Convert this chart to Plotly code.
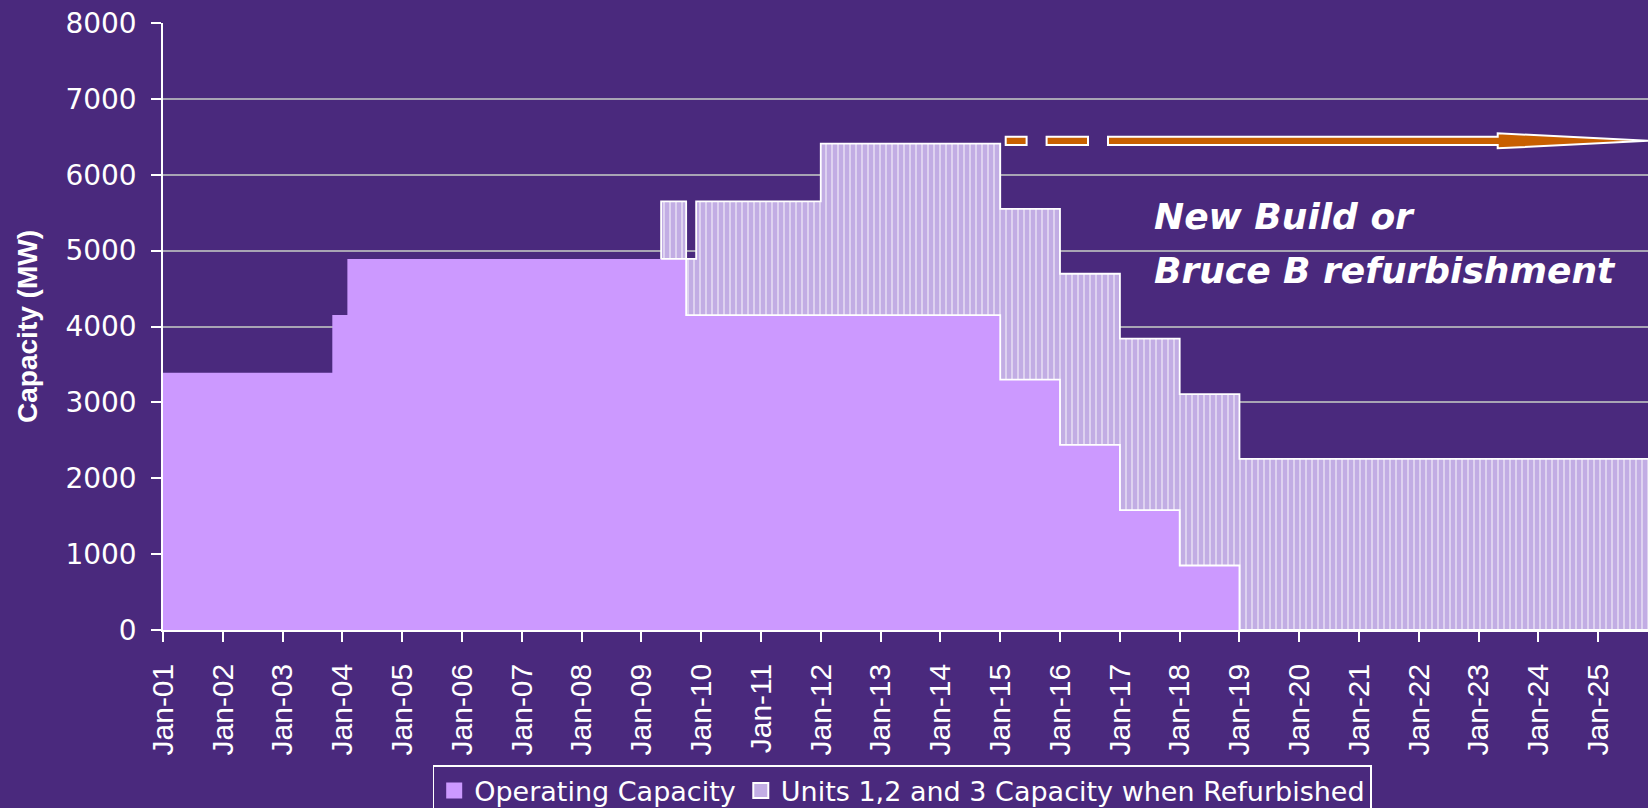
import plotly.graph_objects as go

# ---- data (step change dates and capacities, MW) ----
dates = ["2001-01-01", "2003-11-01", "2004-02-01", "2009-05-01", "2009-10-01",
         "2009-12-01", "2012-01-01", "2015-01-01", "2016-01-01", "2017-01-01",
         "2018-01-01", "2019-01-01", "2025-12-31"]
operating = [3390, 4150, 4890, 4890, 4150, 4150, 4150, 3300, 2440, 1580, 850, 0, 0]
refurbished = [0, 0, 0, 760, 740, 1500, 2260, 2250, 2255, 2260, 2260, 2255, 2255]

series_names = ["Operating Capacity", "Units 1,2 and 3 Capacity when Refurbished"]
annotation_lines = ["New Build or", "Bruce B refurbishment"]

total = [o + r for o, r in zip(operating, refurbished)]

BG = "#4a297d"
OP_COLOR = "#cc99ff"
REF_BG = "#c2ade4"
ORANGE = "#c85f00"

fig = go.Figure()

fig.add_trace(go.Scatter(
    x=dates, y=operating, mode="lines", line=dict(shape="hv", width=0),
    fill="tozeroy", fillcolor=OP_COLOR, showlegend=False, hoverinfo="skip"))

fig.add_trace(go.Scatter(
    x=dates, y=total, mode="lines", line=dict(shape="hv", width=0),
    fill="tonexty", fillcolor=REF_BG,
    fillpattern=dict(shape="|", bgcolor=REF_BG, fgcolor="white", size=6, solidity=0.3),
    showlegend=False, hoverinfo="skip"))

# outline of the refurbished block
k = next(i for i, r in enumerate(refurbished) if r > 0)
fig.add_trace(go.Scatter(
    x=[dates[k]] + dates[k:], y=[operating[k]] + total[k:], mode="lines",
    line=dict(shape="hv", width=1.8, color="white"), showlegend=False, hoverinfo="skip"))
fig.add_trace(go.Scatter(
    x=dates[k:], y=operating[k:], mode="lines",
    line=dict(shape="hv", width=1.8, color="white"), showlegend=False, hoverinfo="skip"))

# legend entries
fig.add_trace(go.Scatter(x=[None], y=[None], mode="markers", name=series_names[0],
                         marker=dict(symbol="square", size=16, color=OP_COLOR, line=dict(width=0))))
fig.add_trace(go.Scatter(x=[None], y=[None], mode="markers", name=series_names[1],
                         marker=dict(symbol="square", size=15, color=REF_BG,
                                     line=dict(width=2, color="white"))))

W, H = 1648, 808
L, R, T, B = 163, 0, 23, 178
pw, ph = W - L - R, H - T - B


def px(xp):
    return (xp - L) / pw


def py(yp):
    return (H - B - yp) / ph


# dashed arrow
shapes = []
for x0, x1 in [(1005.7, 1026.6), (1046.6, 1088.0)]:
    shapes.append(dict(type="rect", xref="paper", yref="paper",
                       x0=px(x0), x1=px(x1), y0=py(145), y1=py(136.7),
                       fillcolor=ORANGE, line=dict(color="white", width=2)))
pts = [(1108, 136.7), (1497.7, 136.7), (1497.7, 133.3), (1648, 140.8),
       (1497.7, 148.3), (1497.7, 145), (1108, 145)]
path = "M" + " L".join(f"{px(a):.5f},{py(b):.5f}" for a, b in pts) + " Z"
shapes.append(dict(type="path", xref="paper", yref="paper", path=path,
                   fillcolor=ORANGE, line=dict(color="white", width=2)))

annotations = [
    dict(text=annotation_lines[0], xref="paper", yref="paper", x=px(1152), y=py(216),
         xanchor="left", yanchor="middle", showarrow=False,
         font=dict(family="DejaVu Sans", size=36, color="white", weight="bold", style="italic")),
    dict(text=annotation_lines[1], xref="paper", yref="paper", x=px(1152), y=py(270),
         xanchor="left", yanchor="middle", showarrow=False,
         font=dict(family="DejaVu Sans", size=36, color="white", weight="bold", style="italic")),
]

fig.update_layout(
    width=W, height=H,
    margin=dict(l=L, r=R, t=T, b=B, pad=0, autoexpand=False),
    paper_bgcolor=BG, plot_bgcolor=BG,
    shapes=shapes, annotations=annotations,
    showlegend=True,
    legend=dict(orientation="h", x=px(432.7), y=py(765), xanchor="left", yanchor="top",
                traceorder="normal",
                bgcolor="rgba(0,0,0,0)", bordercolor="white", borderwidth=1.5,
                font=dict(family="DejaVu Sans", size=27, color="white"),
                itemclick=False, itemdoubleclick=False),
    xaxis=dict(type="date", range=["2001-01-01", "2025-10-31"],
               tick0="2001-01-01", dtick="M12", tickformat="%b-%y", tickangle=-90,
               showgrid=False, showline=True, linecolor="white", linewidth=1.5,
               ticks="outside", ticklen=10, tickwidth=1.5, tickcolor="white",
               ticklabelstandoff=10,
               tickfont=dict(family="Liberation Sans", size=30, color="white"),
               zeroline=False),
    yaxis=dict(range=[0, 8000], dtick=1000, showgrid=True, gridcolor="#a8a4b4", gridwidth=1.5,
               showline=True, linecolor="white", linewidth=1.5,
               ticks="outside", ticklen=10, tickwidth=1.5, tickcolor="white",
               ticklabelstandoff=9,
               tickfont=dict(family="DejaVu Sans", size=28, color="white"),
               zeroline=False,
               title=dict(text="<b>Capacity (MW)</b>", standoff=20,
                          font=dict(family="Liberation Sans", size=28, color="white"))),
)

fig.write_html("out.html", config={"displayModeBar": False},
               post_script="document.body.style.margin='0';document.body.style.overflow='hidden';")
